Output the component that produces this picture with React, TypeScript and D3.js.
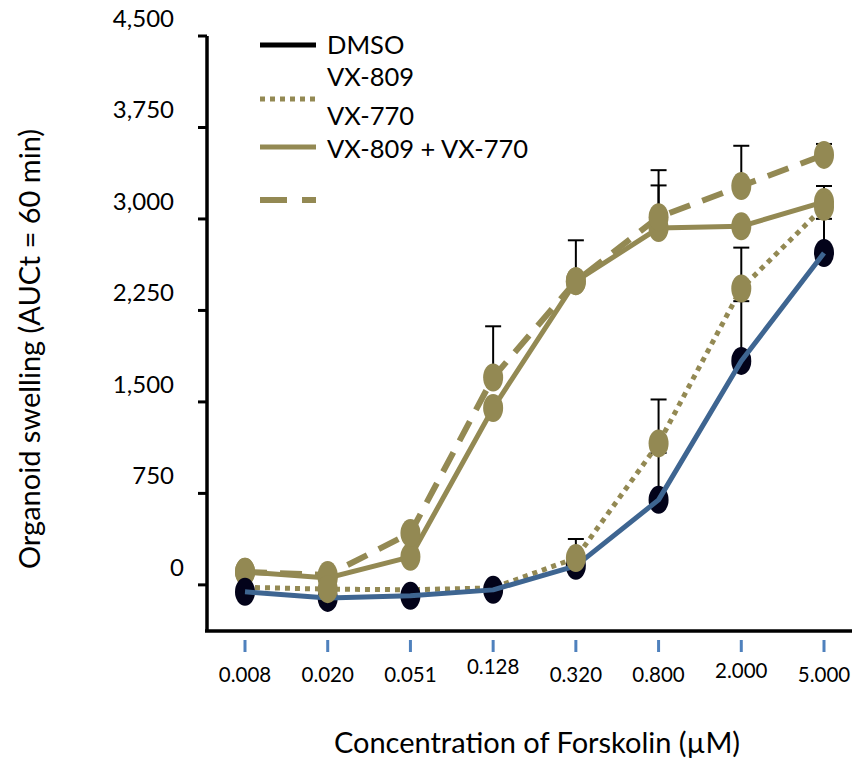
import React from 'react';
import * as d3 from 'd3';

const concentrations = ['0.008', '0.020', '0.051', '0.128', '0.320', '0.800', '2.000', '5.000'];
const yTicks = [0, 750, 1500, 2250, 3000, 3750, 4500];
const dmso = [-57, -107, -90, -41, 156, 697, 1836, 2721];
const vx809 = [-20, -35, -40, -25, 220, 1160, 2430, 3100];
const vx770 = [107, 57, 230, 1450, 2490, 2925, 2940, 3140];
const combo = [107, 80, 425, 1700, 2490, 3015, 3270, 3525];
const dmsoErr = [0, 0, 0, 0, 220, 385, 490, 280];
const vx809Err = [0, 0, 0, 0, 0, 360, 335, 0];
const vx770Err = [0, 0, 0, 0, 0, 350, 0, 130];
const comboErr = [0, 0, 0, 420, 335, 385, 330, 90];
const legendLabels = ['DMSO', 'VX-809', 'VX-770', 'VX-809 + VX-770'];
const xTitle = 'Concentration of Forskolin (µM)';
const yTitle = 'Organoid swelling (AUCt = 60 min)';

const GOLD = '#938953';
const BLUE = '#3E6591';
const DARK = '#03031A';
const FONT = 'Lato, "Open Sans", sans-serif';
const tickLabelShift = [0, 0, 0, -8, 0, 0, -4, 0];

export default function App() {
  const x = d3.scalePoint<string>().domain(concentrations).range([245, 824]);
  const y = d3.scaleLinear().domain([-370, 4500]).range([630, 36]);
  const line = d3
    .line<number>()
    .x((_, i) => x(concentrations[i]) as number)
    .y((d) => y(d));

  const errSeries = [
    { vals: dmso, err: dmsoErr },
    { vals: vx809, err: vx809Err },
    { vals: vx770, err: vx770Err },
    { vals: combo, err: comboErr },
  ];

  const dots = (vals: number[], fill: string, key: string, filter?: (i: number) => boolean) =>
    vals.map((v, i) =>
      filter && !filter(i) ? null : (
        <ellipse key={key + i} cx={x(concentrations[i])} cy={y(v)} rx={10} ry={14} fill={fill} />
      )
    );

  return (
    <svg
      width={868}
      height={764}
      style={{ position: 'absolute', left: 0, top: 0, background: '#fff' }}
      fontFamily={FONT}
    >
      <rect x={0} y={0} width={868} height={764} fill="#fff" />

      {/* error bars */}
      {errSeries.map((s, si) =>
        s.vals.map((v, i) => {
          if (!s.err[i]) return null;
          const cx = x(concentrations[i]) as number;
          const y0 = y(v);
          const y1 = y(v + s.err[i]);
          return (
            <g key={`e${si}-${i}`} stroke="#000" strokeWidth={2}>
              <line x1={cx} x2={cx} y1={y0} y2={y1} />
              <line x1={cx - 8} x2={cx + 8} y1={y1} y2={y1} />
            </g>
          );
        })
      )}

      {/* gold lines */}
      <path d={line(vx809) || ''} fill="none" stroke={GOLD} strokeWidth={5} strokeDasharray="5 5" />
      <path d={line(vx770) || ''} fill="none" stroke={GOLD} strokeWidth={5} />
      <path d={line(combo) || ''} fill="none" stroke={GOLD} strokeWidth={6} strokeDasharray="22 13" />

      {dots(vx770, GOLD, 'p770')}
      {dots(combo, GOLD, 'pc')}

      {dots(dmso, DARK, 'pd')}
      <path d={line(dmso) || ''} fill="none" stroke={BLUE} strokeWidth={5} strokeLinejoin="round" />
      {dots(vx809, GOLD, 'p809', (i) => vx809[i] - dmso[i] > 50)}

      {/* axes */}
      <line x1={207} x2={207} y1={y(4500)} y2={631} stroke="#000" strokeWidth={3.5} />
      <line x1={205} x2={852} y1={631} y2={631} stroke="#000" strokeWidth={3.5} />
      {yTicks.map((t) => (
        <g key={'yt' + t}>
          <line x1={198} x2={207} y1={y(t)} y2={y(t)} stroke="#000" strokeWidth={3} />
          <text x={t === 0 ? 184 : 174} y={y(t) - 9} textAnchor="end" fontSize={24} fill="#000">
            {d3.format(',')(t)}
          </text>
        </g>
      ))}
      {concentrations.map((c, i) => (
        <g key={'xt' + c}>
          <line x1={x(c)} x2={x(c)} y1={640} y2={652} stroke="#4F81BD" strokeWidth={3} />
          <text x={x(c)} y={682 + tickLabelShift[i]} textAnchor="middle" fontSize={20.5} fill="#000">
            {c}
          </text>
        </g>
      ))}

      <text x={537} y={753} textAnchor="middle" fontSize={29} fill="#000">
        {xTitle}
      </text>
      <text transform="translate(40,349) rotate(-90)" textAnchor="middle" fontSize={29} fill="#000">
        {yTitle}
      </text>

      {/* legend */}
      <line x1={260} x2={316} y1={45} y2={45} stroke="#000" strokeWidth={5} />
      <line x1={260} x2={316} y1={99} y2={99} stroke={GOLD} strokeWidth={5} strokeDasharray="5 5" />
      <line x1={260} x2={316} y1={147} y2={147} stroke={GOLD} strokeWidth={5} />
      <line x1={260} x2={316} y1={200} y2={200} stroke={GOLD} strokeWidth={6} strokeDasharray="27 15" />
      {legendLabels.map((l, i) => (
        <text key={l} x={327} y={[54, 86, 125, 158][i]} fontSize={25.5} fill="#000">
          {l}
        </text>
      ))}
    </svg>
  );
}
